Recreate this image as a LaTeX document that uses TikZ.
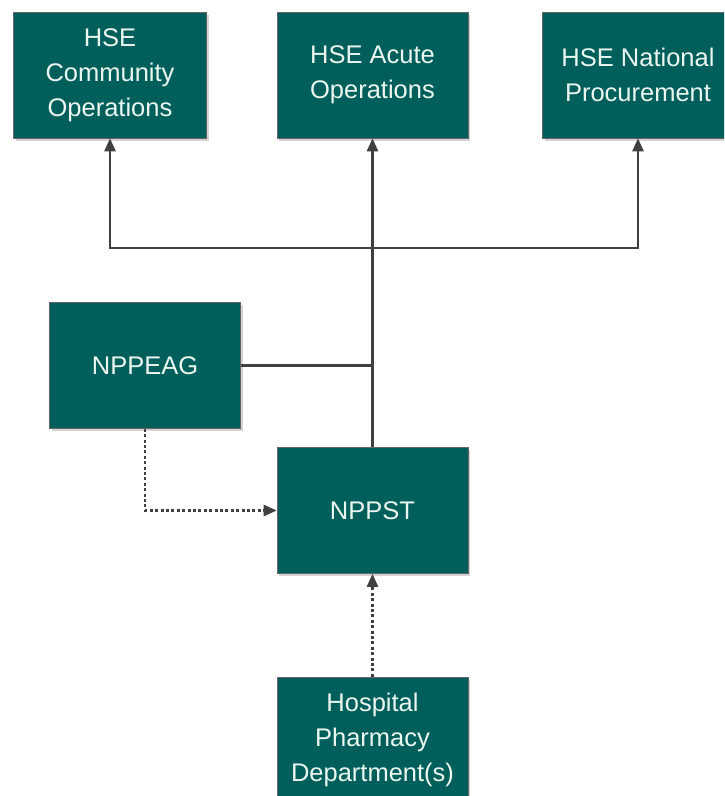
\documentclass[tikz,border=0pt]{standalone}
\usepackage{fontspec}
\setmainfont{Liberation Sans}
\usetikzlibrary{arrows.meta,shadows}
\definecolor{teal1}{RGB}{0,95,90}
\definecolor{txt}{RGB}{236,246,240}
\definecolor{ln}{RGB}{64,64,64}
\tikzset{
  box/.style={draw=ln!80, line width=0.6pt, fill=teal1, text=txt, align=center,
    font=\fontsize{25.5}{35}\selectfont, inner sep=0pt,
    minimum width=191pt, minimum height=126pt,
    drop shadow={opacity=0.35, shadow xshift=2pt, shadow yshift=-2.5pt}},
  conn/.style={draw=ln, line width=2.4pt},
  arr/.style={conn, -{Triangle[length=13pt,width=11pt]}},
  darr/.style={conn, dash pattern=on 3pt off 2.4pt, -{Triangle[length=13pt,width=11pt]}}
}
\begin{document}
\begin{tikzpicture}[x=1pt,y=-1pt]
\useasboundingbox (0,0) rectangle (724,796);
\clip (0,0) rectangle (724,796);
\node[box, minimum width=193pt] (c1) at (110,75) {HSE\\Community\\Operations};
\node[box] (c2) at (372.5,75) {HSE Acute\\Operations};
\node[box] (c3) at (638,75) {HSE National\\Procurement};
\node[box] (eag) at (145,365.5) {NPPEAG};
\node[box] (st) at (372.5,510.5) {NPPST};
\node[box] (hosp) at (372.5,740) {Hospital\\Pharmacy\\Department(s)};
\coordinate (j) at (372.5,248);
\draw[conn] (st.north) -- (j);
\draw[arr] (j) -| (c1.south);
\draw[arr] (j) -| (c3.south);
\draw[arr] (j) -- (c2.south);
\draw[conn] (eag.east) -- (eag.east -| j);
\draw[darr] (eag.south) |- (st.west);
\draw[darr] (hosp.north) -- (st.south);
\end{tikzpicture}
\end{document}
